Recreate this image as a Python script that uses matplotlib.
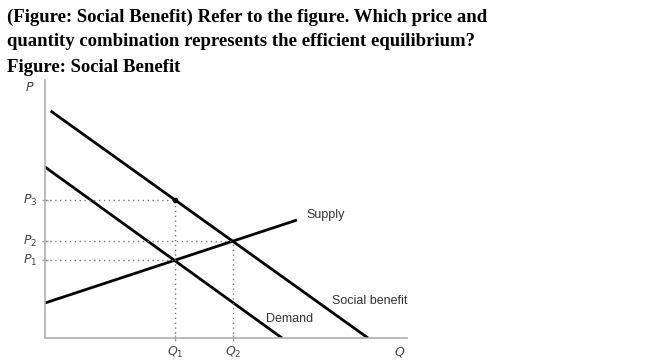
import matplotlib
matplotlib.use("Agg")
import matplotlib.pyplot as plt

# ======================= Data =========================================================================================
title_lines = ["(Figure: Social Benefit) Refer to the figure. Which price and",
               "quantity combination represents the efficient equilibrium?",
               "Figure: Social Benefit"]

social_x = [5.7, 323]          # social benefit curve endpoints
social_y = [227, 0]
demand_x = [0, 237]            # demand curve endpoints
demand_y = [171, 0]
supply_x = [0, 252]            # supply curve endpoints
supply_y = [35, 118]

q_vals = [130, 188]            # Q1, Q2
p_vals = [78, 97, 138]         # P1, P2, P3
q_labels = [r"$Q_1$", r"$Q_2$"]
p_labels = [r"$P_1$", r"$P_2$", r"$P_3$"]

# ======================= Figure =======================================================================================
W, H = 650, 361
fig = plt.figure(figsize=(W / 100, H / 100), dpi=100)
ax = fig.add_axes([45 / W, (H - 338) / H, 362 / W, 258 / H])
ax.set_xlim(0, 362)
ax.set_ylim(0, 258)
ax.set_xticks(q_vals)
ax.set_yticks(p_vals)
ax.set_xticklabels([])
ax.set_yticklabels([])
ax.tick_params(direction="inout", length=5, width=1, color="#a0a0a0")
for s in ["top", "right"]:
    ax.spines[s].set_visible(False)
for s in ["left", "bottom"]:
    ax.spines[s].set_color("#b0b0b0")
    ax.spines[s].set_linewidth(1.2)

# curves
ax.plot(social_x, social_y, color="black", lw=2, solid_capstyle="butt")
ax.plot(demand_x, demand_y, color="black", lw=2, solid_capstyle="butt")
ax.plot(supply_x, supply_y, color="black", lw=2, solid_capstyle="butt")

# dotted guide lines
dot = dict(color="#777777", lw=1, linestyle=(0, (1, 2.5)))
q1, q2 = q_vals
p1, p2, p3 = p_vals
ax.plot([0, q1], [p3, p3], **dot)
ax.plot([0, q2], [p2, p2], **dot)
ax.plot([0, q1], [p1, p1], **dot)
ax.plot([q1, q1], [0, p3], **dot)
ax.plot([q2, q2], [0, p2], **dot)
ax.plot([q1], [p3], "o", color="black", ms=3)

# axis labels
lab = dict(color="#444444", fontsize=9, ha="center", va="center", clip_on=False)
for p, t in zip(p_vals, p_labels):
    ax.text(-15, p, t, **lab)
for q, t in zip(q_vals, q_labels):
    ax.text(q, -14, t, **lab)
ax.text(-15, 251, r"$P$", **lab)
ax.text(355, -14, r"$Q$", **lab)

# curve labels
cl = dict(color="#333333", fontsize=9, family="Liberation Sans", va="center")
ax.text(261, 123, "Supply", **cl)
ax.text(221, 19, "Demand", **cl)
ax.text(287, 37, "Social benefit", **cl)

# title text
for i, line in enumerate(title_lines):
    fig.text(7 / W, 1 - (17 + 25 * i) / H, line, fontsize=13.5, fontweight="bold",
             family="Liberation Serif", va="center", ha="left")

fig.savefig("out.png", dpi=100)
